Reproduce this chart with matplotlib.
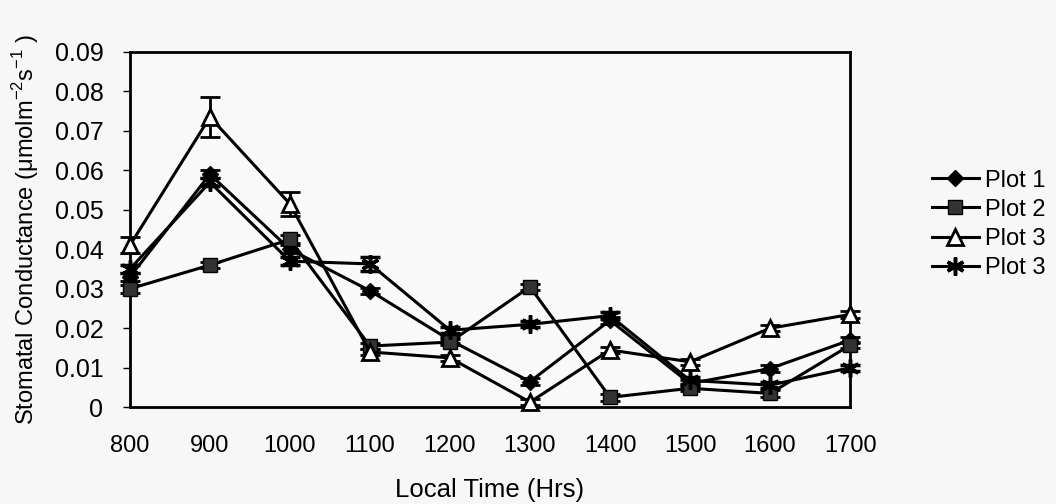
import matplotlib.pyplot as plt

plt.rcParams['font.family'] = ['Liberation Sans', 'DejaVu Sans']
plt.rcParams['mathtext.fontset'] = 'custom'
plt.rcParams['mathtext.rm'] = 'Liberation Sans'

# local time (hrs)
times = [800, 900, 1000, 1100, 1200, 1300, 1400, 1500, 1600, 1700]

# stomatal conductance per plot
plot1 = [0.033, 0.059, 0.040, 0.0295, 0.017, 0.0065, 0.022, 0.006, 0.0098, 0.017]
plot2 = [0.030, 0.036, 0.0425, 0.0155, 0.0165, 0.0305, 0.0025, 0.0048, 0.0035, 0.0157]
plot3 = [0.041, 0.0735, 0.0515, 0.014, 0.0125, 0.0013, 0.0145, 0.0115, 0.020, 0.0235]
plot3b = [0.035, 0.057, 0.037, 0.0363, 0.0195, 0.021, 0.0232, 0.0068, 0.0056, 0.010]

# standard errors
err1 = [0.001, 0.001, 0.001, 0.0008, 0.0008, 0.0008, 0.0008, 0.0008, 0.0008, 0.0008]
err2 = [0.001, 0.0008, 0.001, 0.0008, 0.0008, 0.0008, 0.0008, 0.0008, 0.0008, 0.0008]
err3 = [0.002, 0.005, 0.003, 0.0008, 0.0008, 0.0008, 0.0008, 0.0008, 0.0008, 0.001]
err3b = [0.001, 0.001, 0.001, 0.0018, 0.0008, 0.0008, 0.0008, 0.0008, 0.0008, 0.0008]

labels = ['Plot 1', 'Plot 2', 'Plot 3', 'Plot 3']

fig = plt.figure(figsize=(10.56, 5.04), dpi=100, facecolor='#f7f7f7')
ax = fig.add_axes([0.123, 0.192, 0.682, 0.705])
ax.set_facecolor('#f9f9f9')

styles = [
    dict(marker='D', markersize=8, markerfacecolor='black'),
    dict(marker='s', markersize=10, markerfacecolor='#333333'),
    dict(marker='^', markersize=11, markerfacecolor='white', markeredgewidth=2),
    dict(marker=(6, 2, 0), markersize=13, markeredgewidth=2.5),
]
series = [plot1, plot2, plot3, plot3b]
errs = [err1, err2, err3, err3b]

handles = []
for vals, e, st, lab in zip(series, errs, styles, labels):
    eb = ax.errorbar(times, vals, yerr=e, color='black', lw=2.2, capsize=7,
                     capthick=2, elinewidth=2, markeredgecolor='black',
                     label=lab, clip_on=False, zorder=3, **st)
    handles.append(eb[0])

ax.set_xlim(800, 1700)
ax.set_ylim(0, 0.09)
ax.set_xticks(times)
ax.set_yticks([0, 0.01, 0.02, 0.03, 0.04, 0.05, 0.06, 0.07, 0.08, 0.09])
ax.set_yticklabels(['0', '0.01', '0.02', '0.03', '0.04', '0.05', '0.06',
                    '0.07', '0.08', '0.09'])
ax.tick_params(axis='y', direction='out', length=5, width=1, labelsize=18, pad=14)
ax.tick_params(axis='x', length=0, labelsize=17, pad=20)
for s in ax.spines.values():
    s.set_linewidth(2)

ax.set_xlabel('Local Time (Hrs)', fontsize=18.5, labelpad=15)
ax.set_ylabel('Stomatal Conductance (μmolm$^{\\mathregular{-2}}$s$^{\\mathregular{-1}}$ )',
              fontsize=17, labelpad=10)

fig.legend(handles, labels, loc='center left', bbox_to_anchor=(0.862, 0.555),
           frameon=False, fontsize=17, handlelength=2.0, handletextpad=0.25,
           labelspacing=0.3)

fig.savefig('out.png', dpi=100, facecolor=fig.get_facecolor())
